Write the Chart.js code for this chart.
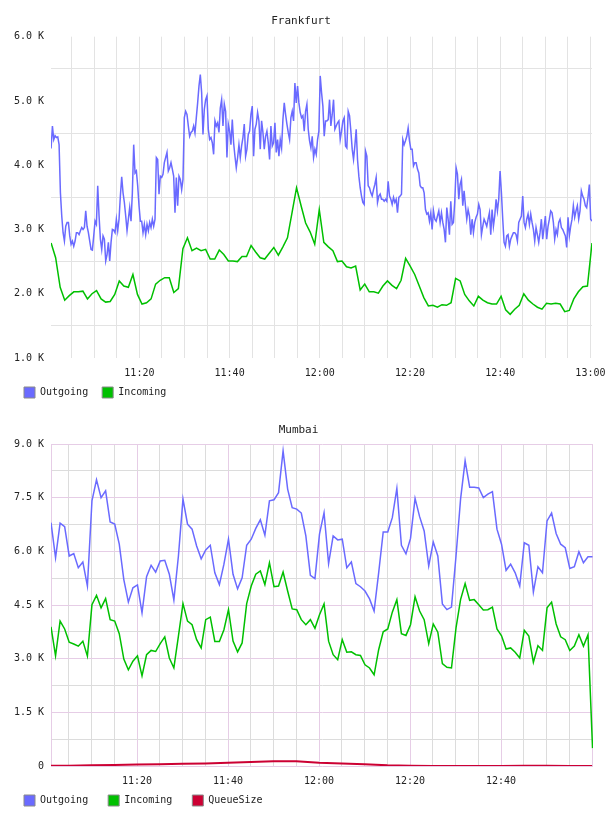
<!DOCTYPE html>
<html><head><meta charset="utf-8">
<script src="https://cdn.jsdelivr.net/npm/chart.js@4.4.1/dist/chart.umd.min.js"></script>
<style>
html,body{margin:0;padding:0;background:#fff;}
#wrap{position:relative;width:608px;height:816px;}
.box{position:absolute;left:0;width:608px;height:408px;}
canvas{display:block;}
</style></head><body>
<div id="wrap">
<div class="box" style="top:0"><canvas id="c1" width="608" height="408"></canvas></div>
<div class="box" style="top:408px"><canvas id="c2" width="608" height="408"></canvas></div>
</div>
<script>
// Time is counted in minutes after 11:00
const BASE_HOUR = 11;
const fraTickMinutes = [20, 40, 60, 80, 100, 120];
const mumTickMinutes = [20, 40, 60, 80, 100];

// Frankfurt — values in thousands (K)
const fraOutgoingStart = 0.42, fraOutgoingStep = 0.2954;
const fraOutgoing = [
4.26,4.61,4.40,4.46,4.43,4.44,4.32,3.57,3.21,2.95,
2.82,3.05,3.11,3.11,2.90,2.77,2.82,2.74,2.82,2.95,
2.95,2.92,2.98,3.03,3.00,3.03,3.29,3.05,2.95,2.82,
2.69,2.68,2.90,3.13,3.08,3.68,3.21,2.85,2.69,2.90,
2.85,2.51,2.61,2.80,2.51,2.80,3.00,2.99,2.95,3.16,
2.98,3.16,3.52,3.82,3.57,3.42,3.21,2.98,3.16,3.34,
3.13,3.57,4.32,3.88,3.91,3.68,3.37,3.13,3.13,2.95,
3.08,2.92,3.08,2.98,3.11,3.03,3.16,3.05,3.16,4.12,
4.09,3.55,3.83,3.81,3.86,4.04,4.12,4.20,3.91,3.96,
4.04,3.94,3.83,3.26,3.81,3.37,3.83,3.78,3.62,3.78,
4.74,4.84,4.79,4.61,4.45,4.51,4.53,4.61,4.50,4.74,
4.97,5.23,5.41,5.13,4.48,4.87,5.02,5.08,4.56,4.40,
4.43,4.35,4.17,4.69,4.61,4.66,4.51,4.89,5.02,4.61,
4.95,4.84,4.12,4.64,4.53,4.32,4.71,4.35,4.14,3.96,
4.12,4.32,4.12,4.30,4.43,4.64,4.14,4.25,4.48,4.53,
4.79,4.92,4.14,4.56,4.64,4.82,4.69,4.25,4.69,4.51,
4.25,4.45,4.53,4.35,4.09,4.61,4.30,4.35,4.66,4.20,
4.40,4.14,4.40,4.27,4.71,4.97,4.79,4.64,4.51,4.40,
4.74,4.84,4.69,5.28,4.97,5.23,4.97,4.82,4.74,4.77,
4.53,4.84,4.95,4.56,4.38,4.27,4.45,4.12,
4.25,4.17,4.40,4.53,5.39,5.13,4.92,4.45,4.69,4.69,
4.71,5.02,4.61,4.79,5.02,4.56,4.61,4.66,4.69,4.40,
4.53,4.69,4.74,4.30,4.27,4.84,4.77,4.53,4.25,4.09,
4.30,4.56,4.09,3.83,3.65,3.52,3.42,3.39,4.22,4.14,
3.68,3.65,3.57,3.52,3.62,3.70,3.81,3.42,3.52,3.55,
3.47,3.47,3.44,3.47,3.44,3.75,3.52,3.47,3.39,3.50,
3.42,3.47,3.26,3.50,3.52,3.55,4.40,4.32,4.38,4.45,
4.58,4.38,4.25,4.25,3.99,4.04,4.04,3.94,3.88,3.68,
3.65,3.65,3.57,3.31,3.24,3.26,3.13,3.26,3.00,3.29,
3.16,3.13,3.21,3.29,3.11,3.26,3.11,3.00,2.80,3.34,
3.16,2.92,3.44,3.08,3.11,3.44,3.96,3.86,3.47,3.70,
3.78,3.37,3.60,3.37,3.16,3.31,3.21,2.92,3.16,2.95,
3.11,3.19,3.24,3.39,3.31,2.92,3.05,3.16,3.11,3.05,
3.16,3.26,2.92,3.31,3.05,3.21,3.47,3.29,3.47,3.91,
3.57,3.16,2.80,2.74,2.90,2.92,2.74,2.85,2.90,2.95,
2.95,2.92,2.82,3.11,3.16,3.21,3.52,3.11,3.03,3.16,
3.24,3.08,3.24,3.11,3.00,2.82,3.03,2.92,2.80,2.95,
3.16,2.85,3.03,3.21,2.85,3.05,3.16,3.29,3.26,3.11,
2.85,3.00,2.92,3.11,3.16,3.03,3.00,2.95,2.90,2.72,
3.19,2.90,3.05,3.16,3.37,3.19,3.29,3.37,3.16,3.29,
3.60,3.52,3.47,3.37,3.34,3.50,3.70,3.16,3.13
];
const fraIncomingStart = 0.42, fraIncomingStep = 1.0078;
const fraIncoming = [
2.79,2.56,2.10,1.90,1.97,2.03,2.03,2.04,1.92,2.00,
2.05,1.92,1.87,1.88,1.99,2.20,2.12,2.10,2.30,1.99,
1.84,1.86,1.92,2.15,2.21,2.25,2.25,2.02,2.08,2.70,
2.87,2.67,2.71,2.67,2.69,2.54,2.54,2.68,2.61,2.51,
2.51,2.50,2.58,2.58,2.75,2.65,2.56,2.54,2.63,2.72,
2.60,2.73,2.87,3.26,3.65,3.37,3.10,2.96,2.77,3.31,
2.80,2.73,2.67,2.50,2.51,2.42,2.40,2.43,2.06,2.15,
2.03,2.03,2.01,2.12,2.20,2.13,2.08,2.21,2.55,2.43,
2.30,2.12,1.94,1.81,1.82,1.79,1.83,1.82,1.86,2.24,
2.20,1.99,1.89,1.81,1.96,1.90,1.86,1.84,1.84,1.96,
1.75,1.68,1.76,1.82,2.00,1.90,1.84,1.79,1.76,1.85,
1.84,1.85,1.84,1.72,1.74,1.92,2.03,2.11,2.12,2.79
];

// Mumbai — values in thousands (K), one sample per minute
const mumStart = 1.1, mumStep = 1.0;
const mumOutgoing = [
6.80,5.82,6.79,6.69,5.87,5.94,5.54,5.70,5.03,7.41,
8.00,7.50,7.69,6.82,6.76,6.20,5.21,4.58,4.98,5.06,
4.28,5.29,5.61,5.42,5.73,5.75,5.36,4.64,5.87,7.46,
6.76,6.62,6.15,5.79,6.04,6.17,5.40,5.07,5.64,6.34,
5.36,4.95,5.26,6.17,6.34,6.64,6.88,6.45,7.41,7.44,
7.64,8.81,7.74,7.22,7.18,7.07,6.43,5.33,5.24,6.48,
7.08,5.66,6.43,6.32,6.34,5.54,5.70,5.10,5.01,4.89,
4.67,4.33,5.40,6.54,6.54,6.94,7.76,6.17,5.93,6.36,
7.48,6.97,6.57,5.59,6.26,5.87,4.53,4.37,4.44,5.87,
7.46,8.53,7.79,7.79,7.77,7.50,7.60,7.67,6.62,6.20,
5.47,5.64,5.40,5.03,6.24,6.17,4.86,5.57,5.40,6.85,
7.07,6.50,6.20,6.10,5.52,5.57,5.99,5.68,5.85,5.85
];
const mumIncoming = [
3.89,3.08,4.05,3.83,3.46,3.41,3.35,3.49,3.07,4.51,
4.77,4.42,4.68,4.09,4.05,3.70,2.99,2.69,2.93,3.08,
2.52,3.11,3.23,3.20,3.42,3.61,3.02,2.74,3.63,4.54,
4.05,3.95,3.53,3.30,4.09,4.16,3.48,3.48,3.81,4.37,
3.49,3.19,3.44,4.54,5.03,5.36,5.45,5.07,5.68,5.01,
5.03,5.42,4.89,4.39,4.37,4.09,3.95,4.09,3.85,4.23,
4.53,3.49,3.11,2.97,3.53,3.18,3.19,3.11,3.09,2.83,
2.74,2.55,3.25,3.75,3.83,4.30,4.65,3.70,3.65,3.95,
4.73,4.33,4.09,3.42,3.97,3.74,2.86,2.76,2.74,3.86,
4.65,5.10,4.63,4.65,4.51,4.36,4.37,4.44,3.83,3.64,
3.27,3.30,3.18,3.02,3.79,3.63,2.90,3.36,3.23,4.42,
4.58,3.97,3.61,3.53,3.23,3.35,3.67,3.35,3.67,0.50
];
const mumQueueMinutes = [1.1,5,10,15,20,25,30,35,40,45,50,55,60,65,70,75,80,85,90,95,100,105,110,115,120];
const mumQueue = [0.01,0.01,0.02,0.03,0.04,0.05,0.06,0.07,0.09,0.11,0.13,0.13,0.09,0.07,0.05,0.02,0.01,0,0,0,0,0.01,0.01,0,0];

const C_OUT = '#6a6aff', C_IN = '#00c000', C_Q = '#cc0033';
const FONT = "'DejaVu Sans Mono', monospace";
const TEXT = '#222';

function sampled(start, step, arr) { return arr.map((v, i) => ({x: start + i * step, y: v})); }
function paired(xs, ys) { return ys.map((v, i) => ({x: xs[i], y: v})); }
function hhmm(m) {
  const h = BASE_HOUR + Math.floor(m / 60), mm = Math.round(m % 60);
  return h + ':' + String(mm).padStart(2, '0');
}
const near = (v, s) => Math.abs(Math.round(v / s) * s - v) < 1e-6;

function lineDs(label, data, color, w) {
  return {label, data, borderColor: color, backgroundColor: color, borderWidth: w,
          pointRadius: 0, tension: 0, fill: false};
}

function makeChart(id, cfg) {
  return new Chart(document.getElementById(id), {
    type: 'line',
    data: {datasets: cfg.datasets},
    options: {
      responsive: false, animation: false, events: [],
      layout: {padding: {left: cfg.padL, right: cfg.padR, top: 0, bottom: 0}},
      plugins: {
        title: {display: true, text: cfg.title, color: TEXT,
                font: {family: FONT, size: 11, weight: 'normal'},
                padding: {top: cfg.titleTop, bottom: cfg.titleBottom}},
        legend: {position: 'bottom', align: 'start',
          labels: {boxWidth: 11, boxHeight: 11, padding: cfg.legPad, color: TEXT,
                   font: {family: FONT, size: 10},
                   generateLabels: (chart) => chart.data.datasets.map((ds, i) => ({
                     text: ds.label, fillStyle: ds.borderColor, strokeStyle: '#8a8a8a',
                     lineWidth: 1, hidden: false, datasetIndex: i, fontColor: TEXT}))}},
        tooltip: {enabled: false}
      },
      scales: {
        x: {type: 'linear', min: cfg.xMin, max: cfg.xMax,
            border: {display: false},
            grid: {drawTicks: false, lineWidth: 1, color: cfg.xGrid},
            ticks: {stepSize: 5, includeBounds: false, autoSkip: false, maxRotation: 0, minRotation: 0,
                    padding: 9, color: TEXT, font: {family: FONT, size: 10},
                    callback: (v) => cfg.xTicks.includes(Math.round(v)) && near(v, 1) ? hhmm(v) : ''},
            afterFit: (s) => {
              s.height = 29 - cfg.legPad; s.paddingLeft = 0; s.paddingRight = 0;
              s._computeLabelArea = () => undefined; // let tick labels overflow the thin axis box
            }},
        y: {min: cfg.yMin, max: cfg.yMax,
            border: cfg.yBorder,
            grid: {drawTicks: false, lineWidth: 1, color: cfg.yGrid},
            ticks: {stepSize: cfg.yStep, autoSkip: false, padding: 7, color: TEXT,
                    font: {family: FONT, size: 10}, callback: cfg.yLabel},
            afterFit: (s) => { s.width = 51 - cfg.padL; s.paddingTop = 0; s.paddingBottom = 0; }}
      }
    }
  });
}

const FRA_GRID = '#e3e3e3';
makeChart('c1', {
  title: 'Frankfurt', padL: 10, padR: 16, legPad: 14, titleTop: 15, titleBottom: 8.5,
  xMin: 0.4, xMax: 120.35, xTicks: fraTickMinutes,
  xGrid: FRA_GRID,
  yMin: 1, yMax: 6, yStep: 0.5,
  yBorder: {display: false},
  yGrid: (c) => near(c.tick.value, 1) ? 'rgba(0,0,0,0)' : FRA_GRID,
  yLabel: (v) => near(v, 1) ? v.toFixed(1) + ' K' : '',
  datasets: [
    lineDs('Outgoing', sampled(fraOutgoingStart, fraOutgoingStep, fraOutgoing), C_OUT, 1.5),
    lineDs('Incoming', sampled(fraIncomingStart, fraIncomingStep, fraIncoming), C_IN, 1.5)
  ]
});

const MUM_PINK = '#e6cde6', MUM_GRAY = '#dcdcdc';
makeChart('c2', {
  title: 'Mumbai', padL: 4, padR: 15, legPad: 20, titleTop: 16, titleBottom: 6.8,
  xMin: 1.1, xMax: 120.2, xTicks: mumTickMinutes,
  xGrid: (c) => near(c.tick.value, 20) ? MUM_PINK : MUM_GRAY,
  yMin: 0, yMax: 9, yStep: 0.75,
  yBorder: {display: true, color: MUM_PINK, width: 1},
  yGrid: (c) => near(c.tick.value, 1.5) ? MUM_PINK : MUM_GRAY,
  yLabel: (v) => near(v, 1.5) ? (v === 0 ? '0' : v.toFixed(1) + ' K') : '',
  datasets: [
    lineDs('Outgoing', sampled(mumStart, mumStep, mumOutgoing), C_OUT, 1.5),
    lineDs('Incoming', sampled(mumStart, mumStep, mumIncoming), C_IN, 1.5),
    lineDs('QueueSize', paired(mumQueueMinutes, mumQueue), C_Q, 2)
  ]
});
</script>
</body></html>
